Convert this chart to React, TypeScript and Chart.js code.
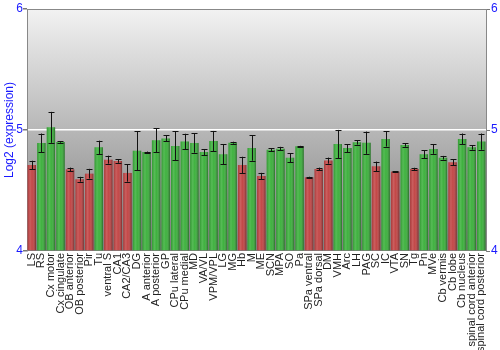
import React, { useEffect, useRef } from "react";
import { Chart, registerables } from "chart.js";

Chart.register(...registerables);

const categories = [
  "LS", "RS", "Cx motor", "Cx cingulate", "OB anterior", "OB posterior", "Pir", "Tu",
  "ventral S", "CA1", "CA2/CA3", "DG", "A anterior", "A posterior", "GP", "CPu lateral",
  "CPu medial", "MD", "VA/VL", "VPM/VPL", "LG", "MG", "Hb", "M", "ME", "SCN", "MPA", "SO",
  "Pa", "SPa ventral", "SPa dorsal", "DM", "VMH", "Arc", "LH", "PAG", "SC", "IC", "VTA",
  "SN", "Tg", "Pn", "MVe", "Cb vermis", "Cb lobe", "Cb nucleus", "spinal cord anterior",
  "spinal cord posterior",
];

const values = [
  4.711, 4.893, 5.022, 4.9, 4.675, 4.593, 4.639, 4.857,
  4.755, 4.744, 4.645, 4.829, 4.818, 4.915, 4.93, 4.868,
  4.904, 4.893, 4.818, 4.909, 4.8, 4.895, 4.711, 4.851, 4.62, 4.837, 4.846, 4.771,
  4.865, 4.609, 4.678, 4.747, 4.884, 4.851, 4.898, 4.895, 4.7, 4.926, 4.656,
  4.876, 4.678, 4.8, 4.843, 4.771, 4.733, 4.926, 4.857,
  4.904,
];

const errors = [
  0.035, 0.078, 0.128, 0.005, 0.014, 0.02, 0.04, 0.055,
  0.033, 0.015, 0.072, 0.16, 0.004, 0.1, 0.025, 0.12,
  0.065, 0.08, 0.025, 0.083, 0.083, 0.008, 0.068, 0.105, 0.026, 0.014, 0.015, 0.037,
  0.004, 0.005, 0.011, 0.025, 0.117, 0.033, 0.018, 0.092, 0.039, 0.063, 0.004,
  0.014, 0.01, 0.033, 0.04, 0.015, 0.025, 0.045, 0.019,
  0.067,
];

// 1 = green (high), 0 = red (low)
const groups = [
  0, 1, 1, 1, 0, 0, 0, 1,
  0, 0, 0, 1, 1, 1, 1, 1,
  1, 1, 1, 1, 1, 1, 0, 1, 0, 1, 1, 1,
  1, 0, 0, 0, 1, 1, 1, 1, 0, 1, 0,
  1, 0, 1, 1, 1, 0, 1, 1,
  1,
];

const yTicks = [4, 5, 6];

const RED = "#c24444";
const GREEN = "#3bb03b";
const BLUE = "#1a1aff";
const FONT = "'Liberation Sans', Arial, sans-serif";

const bgPlugin = {
  id: "bgGradient",
  beforeDraw(chart: any) {
    const { ctx, chartArea } = chart;
    if (!chartArea) return;
    const g = ctx.createLinearGradient(0, chartArea.top, 0, chartArea.bottom);
    g.addColorStop(0, "#f2f2f2");
    g.addColorStop(1, "#7c7c7c");
    ctx.save();
    ctx.fillStyle = g;
    ctx.fillRect(chartArea.left, chartArea.top, chartArea.right - chartArea.left, chartArea.bottom - chartArea.top);
    ctx.restore();
  },
};

const barShadePlugin = {
  id: "barShade",
  afterDatasetsDraw(chart: any) {
    const { ctx } = chart;
    const meta = chart.getDatasetMeta(0);
    const yScale = chart.scales.y;
    ctx.save();
    meta.data.forEach((el: any, i: number) => {
      const w = el.width;
      const left = el.x - w / 2;
      const top = Math.min(el.y, el.base);
      const h = Math.abs(el.base - el.y);
      const g = ctx.createLinearGradient(left, 0, left + w, 0);
      g.addColorStop(0, "rgba(0,0,0,0.12)");
      g.addColorStop(0.3, "rgba(255,255,255,0.14)");
      g.addColorStop(0.55, "rgba(255,255,255,0.02)");
      g.addColorStop(1, "rgba(0,0,0,0.38)");
      ctx.fillStyle = g;
      ctx.fillRect(left, top, w, h);
      // error bar
      const v = values[i];
      const e = errors[i];
      const y1 = yScale.getPixelForValue(v + e);
      const y2 = yScale.getPixelForValue(v - e);
      ctx.strokeStyle = "#111";
      ctx.lineWidth = 1;
      const x = Math.round(el.x) + 0.5;
      ctx.beginPath();
      ctx.moveTo(x, y1);
      ctx.lineTo(x, y2);
      ctx.moveTo(x - 3, Math.round(y1) + 0.5);
      ctx.lineTo(x + 3, Math.round(y1) + 0.5);
      ctx.moveTo(x - 3, Math.round(y2) + 0.5);
      ctx.lineTo(x + 3, Math.round(y2) + 0.5);
      ctx.stroke();
    });
    ctx.restore();
  },
};

export default function App() {
  const ref = useRef<HTMLCanvasElement | null>(null);
  useEffect(() => {
    if (!ref.current) return;
    const chart = new Chart(ref.current, {
      type: "bar",
      data: {
        labels: categories,
        datasets: [
          {
            data: values,
            backgroundColor: groups.map((g) => (g ? GREEN : RED)),
            borderWidth: 0,
            barPercentage: 0.88,
            categoryPercentage: 1,
            base: 4,
          },
        ],
      },
      options: {
        responsive: false,
        animation: false,
        layout: { padding: { top: 9, left: 0, right: 0, bottom: 0 } },
        plugins: { legend: { display: false }, tooltip: { enabled: false } },
        scales: {
          x: {
            grid: { display: false, drawTicks: false },
            border: { display: false },
            ticks: {
              autoSkip: false,
              maxRotation: 90,
              minRotation: 90,
              padding: 2,
              color: "#222",
              font: { family: FONT, size: 11 },
            },
            afterFit(scale: any) {
              scale.height = 99;
            },
          },
          y: {
            position: "left",
            min: 4,
            max: 6,
            afterBuildTicks(scale: any) {
              scale.ticks = yTicks.map((v) => ({ value: v }));
            },
            grid: {
              color: (c: any) => (c.tick && c.tick.value === 5 ? "#ffffff" : "rgba(0,0,0,0)"),
              lineWidth: 1.5,
              drawTicks: true,
              tickLength: 4,
              tickColor: "#777",
            },
            border: { display: true, color: "#888" },
            ticks: { color: BLUE, padding: 0, font: { family: FONT, size: 12 } },
            title: {
              display: true,
              text: "Log2 (expression)",
              color: BLUE,
              padding: { top: 2, bottom: 0 },
              font: { family: FONT, size: 12 },
            },
            afterFit(scale: any) {
              scale.width = 27;
            },
          },
          y2: {
            position: "right",
            min: 4,
            max: 6,
            afterBuildTicks(scale: any) {
              scale.ticks = yTicks.map((v) => ({ value: v }));
            },
            grid: { display: true, drawOnChartArea: false, tickLength: 4, tickColor: "#777" },
            border: { display: true, color: "#888" },
            ticks: { color: BLUE, padding: 1, font: { family: FONT, size: 12 } },
            afterFit(scale: any) {
              scale.width = 14;
            },
          },
        },
      },
      plugins: [bgPlugin, barShadePlugin,
        {
          id: "topBorder",
          afterDraw(chart: any) {
            const { ctx, chartArea } = chart;
            ctx.save();
            ctx.strokeStyle = "#888";
            ctx.lineWidth = 1;
            ctx.beginPath();
            ctx.moveTo(chartArea.left, chartArea.top + 0.5);
            ctx.lineTo(chartArea.right, chartArea.top + 0.5);
            ctx.stroke();
            ctx.restore();
          },
        },
      ],
    } as any);
    return () => chart.destroy();
  }, []);
  return (
    <div style={{ position: "fixed", left: 0, top: 0, width: 500, height: 350, background: "#fff" }}>
      <canvas ref={ref} width={500} height={350} style={{ display: "block" }} />
    </div>
  );
}
